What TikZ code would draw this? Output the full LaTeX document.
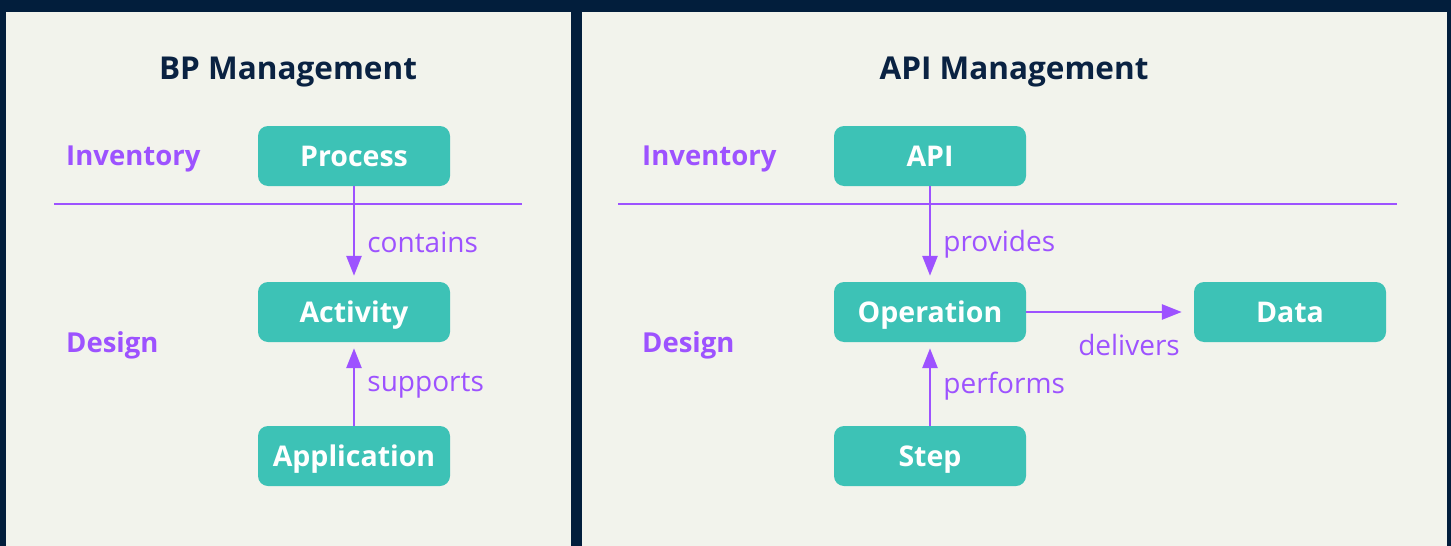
\documentclass[tikz,border=0pt]{standalone}
\usepackage{fontspec}
\setmainfont{Open Sans}
\usetikzlibrary{arrows.meta}
\definecolor{navy}{HTML}{021E3C}
\definecolor{panel}{HTML}{F2F3EC}
\definecolor{teal}{HTML}{3DC2B6}
\definecolor{purp}{HTML}{9D52FF}
\definecolor{titlec}{HTML}{0A2242}
\tikzset{
  box/.style={fill=teal, rounded corners=10pt, minimum width=192pt, minimum height=60pt, text=white, font=\fontsize{28.5}{32}\selectfont\bfseries, inner sep=0pt, text height=20.5pt, text depth=0pt},
  title/.style={text=titlec, font=\fontsize{31.5}{36}\selectfont\bfseries},
  rowlab/.style={text=purp, font=\fontsize{27.5}{32}\selectfont\bfseries, anchor=west, inner sep=0pt},
  edgelab/.style={text=purp, font=\fontsize{28}{32}\selectfont, inner sep=0pt},
  rule/.style={draw=purp, line width=1.2pt},
  conn/.style={draw=purp, line width=2.8pt, -{Triangle[length=20pt,width=15pt]}}
}
\begin{document}
\begin{tikzpicture}[x=1pt,y=-1pt]
\fill[navy] (0,0) rectangle (1451,546);
\fill[panel] (6,12) rectangle (571,546);
\fill[panel] (582,12) rectangle (1447,546);
% left panel
\node[title] (t1) at (288,72) {BP Management};
\node[rowlab] (inv1) at (66,159) {Inventory};
\node[rowlab] (des1) at (66,345) {Design};
\coordinate (l1a) at (54,204);
\coordinate (l1b) at (522,204);
\draw[rule] (l1a) -- (l1b);
\node[box] (process) at (354,156) {Process};
\node[box] (activity) at (354,312) {Activity};
\node[box] (application) at (354,456) {Application};
\draw[conn, shorten >=6pt] (process) -- (activity) node[edgelab, pos=0.5, anchor=west, xshift=12pt, yshift=-8pt] (lc) {contains};
\draw[conn, shorten >=6pt] (application) -- (activity) node[edgelab, pos=0.5, anchor=west, xshift=12pt, yshift=-2pt] (ls) {supports};
% right panel
\node[title] (t2) at (1014,72) {API Management};
\node[rowlab] (inv2) at (642,159) {Inventory};
\node[rowlab] (des2) at (642,345) {Design};
\coordinate (l2a) at (618,204);
\coordinate (l2b) at (1397,204);
\draw[rule] (l2a) -- (l2b);
\node[box] (api) at (930,156) {API};
\node[box] (operation) at (930,312) {Operation};
\node[box] (step) at (930,456) {Step};
\node[box] (data) at (1290,312) {Data};
\draw[conn, shorten >=6pt] (api) -- (operation) node[edgelab, pos=0.5, anchor=west, xshift=12pt, yshift=-10pt] (lp) {provides};
\draw[conn, shorten >=6pt] (step) -- (operation) node[edgelab, pos=0.5, anchor=west, xshift=12pt, yshift=-2pt] (lf) {performs};
\draw[conn, shorten >=12pt] (operation) -- (data);
\node[edgelab, anchor=east] (ld) at (1180,345) {delivers};
\end{tikzpicture}
\end{document}
